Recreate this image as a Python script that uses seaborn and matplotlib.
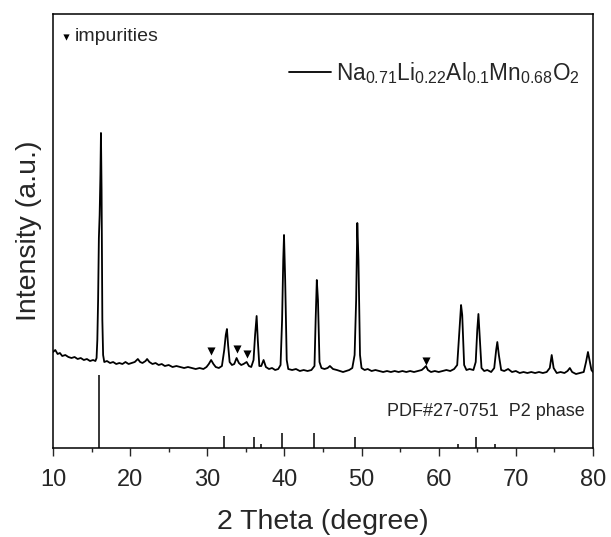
"""
XRD pattern of Na0.71Li0.22Al0.1Mn0.68O2 with P2 reference (PDF#27-0751).
"""

import matplotlib
matplotlib.use("Agg")
import matplotlib.pyplot as plt
import numpy as np
import pandas as pd
import seaborn as sns
from matplotlib.ticker import MultipleLocator


two_theta = [
    10.0, 10.3, 10.6, 10.9, 11.2, 11.6, 12.0, 12.4, 12.8, 13.2, 13.6, 14.0,
    14.4, 14.8, 15.2, 15.5, 15.65, 15.75, 15.85, 15.95, 16.05, 16.15, 16.22,
    16.3, 16.4, 16.5, 16.65, 17.0, 17.4, 17.8, 18.2, 18.6, 19.0, 19.4, 19.8,
    20.2, 20.6, 21.0, 21.3, 21.6, 22.0, 22.2, 22.5, 22.9, 23.3, 23.7, 24.1,
    24.5, 25.0, 25.5, 26.0, 26.5, 27.0, 27.5, 28.0, 28.5, 29.0, 29.5, 29.9,
    30.2, 30.5, 30.8, 31.1, 31.5, 31.9, 32.2, 32.4, 32.55, 32.7, 32.9, 33.2,
    33.5, 33.8, 34.1, 34.4, 34.7, 35.1, 35.4, 35.7, 36.0, 36.2, 36.4, 36.55,
    36.75, 37.0, 37.3, 37.6, 38.0, 38.4, 38.8, 39.2, 39.5, 39.7, 39.85, 39.95,
    40.1, 40.3, 40.5, 41.0, 41.5, 42.0, 42.5, 43.0, 43.5, 43.9, 44.05, 44.2,
    44.35, 44.55, 44.8, 45.2, 45.6, 45.9, 46.3, 46.8, 47.2, 47.6, 48.0, 48.4,
    48.8, 49.1, 49.3, 49.45, 49.6, 49.8, 50.0, 50.4, 50.8, 51.3, 51.8, 52.3,
    52.8, 53.3, 53.8, 54.3, 54.8, 55.3, 55.8, 56.3, 56.8, 57.3, 57.8, 58.1,
    58.35, 58.6, 59.0, 59.5, 60.0, 60.5, 61.0, 61.5, 62.0, 62.4, 62.7, 62.9,
    63.05, 63.3, 63.6, 64.0, 64.5, 64.8, 65.0, 65.15, 65.3, 65.55, 65.9, 66.3,
    66.8, 67.2, 67.45, 67.6, 67.8, 68.1, 68.5, 69.0, 69.5, 70.0, 70.5, 71.0,
    71.5, 72.0, 72.5, 73.0, 73.5, 74.0, 74.4, 74.65, 74.9, 75.3, 75.8, 76.3,
    76.7, 77.0, 77.3, 77.8, 78.3, 78.8, 79.1, 79.35, 79.6, 79.8, 80.0,
]
intensity = [
    96, 98, 94, 95, 92, 93, 91, 90, 91, 89, 90, 88,
    89, 87, 88, 87, 90, 108, 148, 210, 233, 273, 315,
    258, 128, 93, 86, 87, 85, 86, 84, 85, 84, 86, 84,
    85, 86, 89, 86, 85, 87, 89, 86, 84, 85, 83, 84,
    82, 83, 81, 82, 81, 80, 81, 80, 79, 80, 79, 81,
    84, 88, 84, 81, 80, 82, 98, 113, 119, 103, 86, 83,
    84, 90, 85, 83, 84, 86, 82, 81, 88, 113, 132, 108,
    82, 82, 88, 81, 79, 80, 78, 79, 83, 128, 188, 213,
    168, 88, 79, 78, 79, 77, 78, 77, 78, 82, 128, 168,
    148, 86, 80, 79, 80, 82, 79, 78, 77, 76, 77, 78,
    80, 93, 148, 225, 188, 93, 80, 78, 79, 77, 78, 77,
    76, 77, 76, 77, 76, 77, 76, 77, 76, 77, 78, 80,
    82, 78, 76, 77, 76, 77, 78, 77, 79, 83, 118, 143,
    133, 83, 78, 79, 78, 86, 118, 134, 113, 80, 77, 78,
    76, 80, 98, 106, 93, 78, 77, 79, 76, 77, 75, 76,
    75, 76, 75, 76, 75, 76, 80, 93, 80, 75, 76, 75,
    77, 80, 76, 74, 75, 76, 86, 96, 86, 78, 76,
]

# Reference lines of PDF#27-0751 (P2 phase)
ref_two_theta = [15.95, 32.2, 36.1, 37.0, 39.75, 43.8, 49.1, 62.5, 64.8, 67.3]
ref_height = [73, 12, 11, 4, 15, 15, 11, 4, 11, 4]

# Impurity markers
imp_two_theta = [30.5, 33.85, 35.15, 58.35]
imp_height = [97, 99, 94, 87]

formula = r"Na$_{0.71}$Li$_{0.22}$Al$_{0.1}$Mn$_{0.68}$O$_2$"

sns.set_style("ticks")
plt.rcParams["font.family"] = ["Liberation Sans", "DejaVu Sans"]
plt.rcParams["mathtext.fontset"] = "custom"
plt.rcParams["mathtext.rm"] = "Liberation Sans"
plt.rcParams["mathtext.it"] = "Liberation Sans:italic"
plt.rcParams["mathtext.default"] = "regular"

df = pd.DataFrame({"two_theta": two_theta, "intensity": intensity})

fig = plt.figure(figsize=(6.11, 5.37), dpi=100)
ax = fig.add_axes([0.0867, 0.1657, 0.8838, 0.8083])

sns.lineplot(data=df, x="two_theta", y="intensity", sort=False,
             color="black", linewidth=1.3, label=formula, ax=ax)
ax.vlines(ref_two_theta, 0, ref_height, color="black", linewidth=1.1)
ax.scatter(imp_two_theta, imp_height, marker="v", s=34, color="black",
           linewidths=0, zorder=3)

ax.set_xlim(10, 80)
ax.set_ylim(0, 434)
ax.set_yticks([])
ax.xaxis.set_major_locator(MultipleLocator(10))
ax.xaxis.set_minor_locator(MultipleLocator(5))
ax.tick_params(axis="x", which="major", direction="out", length=6,
               width=1.0, labelsize=17, pad=9)
ax.tick_params(axis="x", which="minor", direction="out", length=3, width=1.0)
for sp in ax.spines.values():
    sp.set_linewidth(1.1)
    sp.set_color("black")

ax.set_xlabel("2 Theta (degree)", fontsize=20.5, labelpad=13)
ax.set_ylabel("Intensity (a.u.)", fontsize=20.5, labelpad=8)

ax.legend(loc="center right", bbox_to_anchor=(0.993, 0.864), frameon=False,
          fontsize=16.3, handlelength=1.85, handletextpad=0.25,
          borderaxespad=0.0)

# impurity key in the upper left corner
ax.scatter([0.024], [0.946], marker="v", s=20, color="black", linewidths=0,
           transform=ax.transAxes, clip_on=False)
ax.text(0.041, 0.948, "impurities", transform=ax.transAxes, fontsize=14,
        ha="left", va="center")

ax.text(0.985, 0.083, "PDF#27-0751  P2 phase", transform=ax.transAxes,
        fontsize=13, ha="right", va="center")

plt.savefig("out.png", dpi=100)
plt.close()
